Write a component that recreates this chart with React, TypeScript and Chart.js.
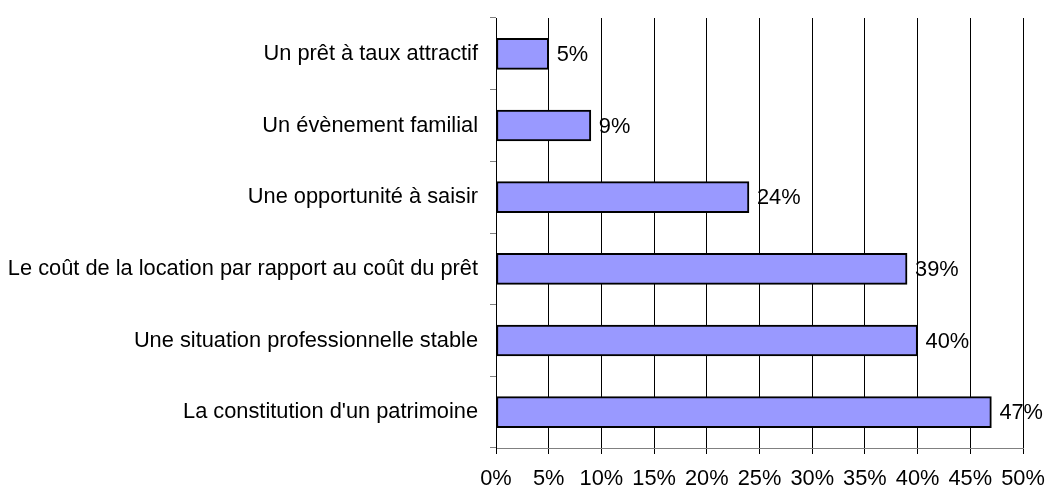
import React, { useEffect, useRef } from "react";
import { Chart, registerables } from "chart.js";

Chart.register(...registerables);

const categories = [
  "Un prêt à taux attractif",
  "Un évènement familial",
  "Une opportunité à saisir",
  "Le coût de la location par rapport au coût du prêt",
  "Une situation professionnelle stable",
  "La constitution d'un patrimoine",
];
const values = [5, 9, 24, 39, 40, 47];
const xMin = 0;
const xMax = 50;
const xStep = 5;

const FONT = "'Liberation Sans', Arial, sans-serif";
const FS = 21.8;

const valueLabels = {
  id: "valueLabels",
  afterDatasetsDraw(chart: any) {
    const ctx = chart.ctx;
    const meta = chart.getDatasetMeta(0);
    ctx.save();
    ctx.font = `${FS}px ${FONT}`;
    ctx.fillStyle = "#000";
    ctx.textAlign = "left";
    ctx.textBaseline = "middle";
    meta.data.forEach((bar: any, i: number) => {
      ctx.fillText(values[i] + "%", bar.x + 8, bar.y + 1);
    });
    ctx.restore();
  },
};

export default function App() {
  const ref = useRef<HTMLCanvasElement>(null);
  useEffect(() => {
    if (!ref.current) return;
    const chart = new Chart(ref.current, {
      type: "bar",
      data: {
        labels: categories,
        datasets: [
          {
            data: values,
            backgroundColor: "#9999FF",
            borderColor: "#000000",
            borderWidth: 2,
            borderSkipped: false,
            barThickness: 31,
          },
        ],
      },
      options: {
        indexAxis: "y",
        animation: false,
        responsive: true,
        maintainAspectRatio: false,
        layout: { padding: { top: 18, right: 23, left: 0, bottom: 0 } },
        plugins: {
          legend: { display: false },
          tooltip: { enabled: false },
        },
        scales: {
          x: {
            min: xMin,
            max: xMax,
            ticks: {
              stepSize: xStep,
              color: "#000",
              font: { family: FONT, size: FS },
              padding: 12,
              maxRotation: 0,
              callback: (v: any) => v + "%",
            },
            grid: {
              color: "#000",
              lineWidth: 1,
              tickLength: 6,
              drawOnChartArea: true,
            },
            border: { color: "#808080", width: 1 },
            afterFit: (s: any) => {
              s.height = 38;
              s.paddingLeft = 0;
              s.paddingRight = 0;
            },
          },
          y: {
            ticks: {
              color: "#000",
              font: { family: FONT, size: FS },
              padding: 12,
              autoSkip: false,
            },
            grid: {
              color: "#808080",
              lineWidth: 1,
              tickLength: 6,
              drawOnChartArea: false,
              offset: true,
            },
            border: { color: "#000", width: 1 },
            afterFit: (s: any) => {
              s.width = 496;
              s.paddingTop = 0;
              s.paddingBottom = 0;
            },
          },
        },
      },
      plugins: [valueLabels],
    });
    return () => chart.destroy();
  }, []);
  return (
    <div style={{ position: "absolute", left: 0, top: 0, width: 1046, height: 486, background: "#fff" }}>
      <canvas ref={ref} />
    </div>
  );
}
